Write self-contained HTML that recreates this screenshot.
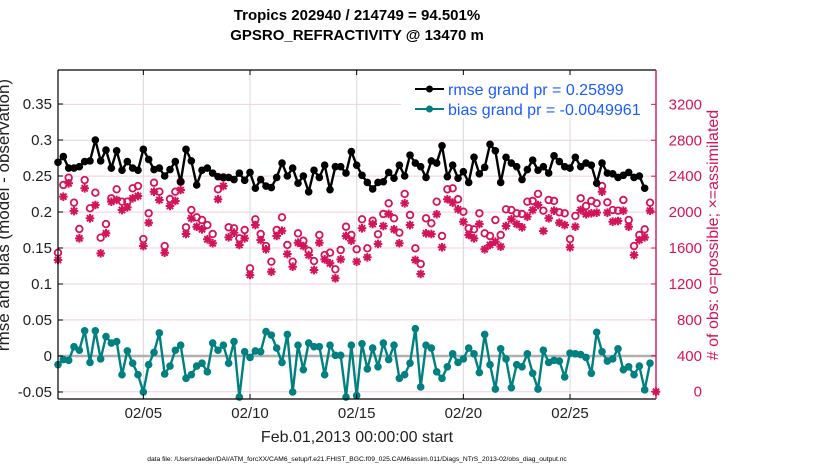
<!DOCTYPE html>
<html><head><meta charset="utf-8"><style>
body{margin:0;background:#fff;}
svg{display:block;font-family:"Liberation Sans",sans-serif;}
</style></head><body>
<svg id="chart" width="830" height="470" viewBox="0 0 830 470">
<rect x="0" y="0" width="830" height="470" fill="#fff"/>
<g id="grid"></g>
<g id="marks"></g>
<g id="axes"></g>
</svg>
<script>
const rmse=[0.269,0.277,0.261,0.261,0.263,0.270,0.271,0.300,0.271,0.286,0.261,0.285,0.258,0.270,0.261,0.258,0.287,0.273,0.259,0.261,0.250,0.259,0.270,0.242,
0.287,0.271,0.2375,0.258,0.261,0.254,0.249,0.248,0.248,0.245,0.254,0.244,0.255,0.233,0.245,0.236,0.234,0.248,0.268,0.250,0.261,
0.240,0.250,0.228,0.258,0.248,0.265,0.231,0.263,0.263,0.254,0.284,0.265,0.251,0.241,0.232,0.241,0.242,0.255,0.247,0.265,0.250,0.279,
0.268,0.263,0.248,0.271,0.268,0.292,0.249,0.265,0.247,0.256,0.241,0.276,0.253,0.262,0.294,0.285,0.241,0.276,0.268,0.263,0.245,0.259,0.272,
0.258,0.263,0.254,0.278,0.270,0.263,0.261,0.276,0.263,0.268,0.265,0.240,0.268,0.254,0.253,0.248,0.251,0.255,0.248,0.250,0.233];
const bias=[-0.012,-0.005,-0.006,0.013,0.008,0.035,-0.009,0.035,-0.004,0.027,0.018,0.020,-0.026,0.007,-0.010,-0.026,-0.050,-0.012,0.005,0.032,-0.025,-0.014,0.008,0.015,
-0.031,-0.026,-0.014,-0.010,-0.022,0.018,0.008,0.015,-0.010,0.020,-0.057,0.006,-0.002,0.007,0.006,0.034,0.029,0.011,-0.009,0.030,-0.050,0.015,
-0.019,0.018,0.013,0.013,-0.026,0.015,0.001,0.001,-0.057,0.015,-0.055,0.017,-0.018,0.011,-0.015,0.018,-0.005,0.015,-0.031,-0.026,-0.010,0.038,-0.043,
0.015,0.011,-0.022,-0.031,-0.015,0.003,-0.009,-0.004,0.011,0.003,-0.023,0.030,-0.012,-0.046,0.010,-0.004,-0.044,-0.012,-0.015,0.003,-0.024,-0.046,
0.008,-0.009,-0.006,-0.007,-0.029,0.004,0.003,0.002,-0.002,-0.024,0.033,0.006,-0.007,-0.004,0.010,-0.019,-0.015,-0.026,-0.014,-0.047,-0.010];
const possible=[1548,2302,2383,2105,1812,2357,2042,2216,1715,1867,2154,2254,2116,2116,2265,2290,1700,1987,2327,2227,1622,2146,2227,
2338,1831,2023,1942,1912,1856,1756,2254,2387,1831,1820,1708,1801,1374,1920,1756,1622,1448,1801,1942,1634,1448,1764,
1681,1570,1455,1745,1522,1548,1363,1578,1837,1745,1586,1920,1597,1904,1753,1979,2098,1931,1771,2202,1968,1597,
1422,1931,1875,2116,1734,2254,2265,2143,2004,1820,1808,1987,1764,1734,1912,1745,2031,2023,1987,1979,2116,2124,2202,
2016,2135,2124,1998,1987,1700,1957,2154,2068,2124,2098,2290,2109,2023,2016,2135,1912,1622,1745,1808,2105];
const assimilated=[1467,2172,2321,2012,1708,2265,1931,2079,1541,1764,2116,2135,2023,2053,2154,2179,1622,1882,2227,2135,1548,2068,2124,
2246,1756,1931,1837,1808,1697,1653,2143,2290,1719,1771,1634,1708,1300,1856,1689,1586,1336,1734,1793,1533,1392,1659,
1622,1522,1355,1659,1474,1430,1263,1474,1734,1681,1448,1820,1497,1867,1645,1845,1979,1808,1653,2098,1856,1467,
1311,1764,1756,1976,1608,2143,2105,2031,1893,1745,1708,1867,1586,1634,1670,1615,1845,1920,1867,1831,1949,2023,2079,
1790,1931,2016,1882,1856,1608,1837,2023,1976,1987,1994,2227,1994,1893,1901,2016,1837,1522,1689,1719,2016];
const leftTicks=[-0.05,0,0.05,0.1,0.15,0.2,0.25,0.3,0.35];
const leftTickLabels=["-0.05","0","0.05","0.1","0.15","0.2","0.25","0.3","0.35"];
const rightTicks=[0,400,800,1200,1600,2000,2400,2800,3200];
const xTicks=[4,9,14,19,24];
const xTickLabels=["02/05","02/10","02/15","02/20","02/25"];

const L=58,R=656,T=70,B=399;
const xs=d=>L+(d/28.03)*(R-L);
const yl=v=>356-720*v;
const yr=n=>391.7-0.0898*n;
const NS='http://www.w3.org/2000/svg';
function el(tag,attrs,parent,text){const e=document.createElementNS(NS,tag);for(const k in attrs)e.setAttribute(k,attrs[k]);if(text!==undefined)e.textContent=text;parent.appendChild(e);return e;}
const grid=document.getElementById('grid'),marks=document.getElementById('marks'),axes=document.getElementById('axes');
const MAG='#d4145a',TEAL='#008080';

rightTicks.forEach(n=>{const g=el('line',{x1:L,x2:R,y1:yr(n),y2:yr(n),stroke:'#f3cfdc','stroke-width':1},grid);

});
xTicks.forEach(d=>{const g=el('line',{x1:xs(d),x2:xs(d),y1:T,y2:B,stroke:'#d8d8d8','stroke-width':1},grid);

});
const zl=el('line',{x1:L,x2:R,y1:yl(0),y2:yl(0),stroke:'#b0b0b0','stroke-width':2.5},grid);



function star(cx,cy,p){const s=4.3,d=3.1;
el('path',{d:`M${cx-s},${cy}H${cx+s}M${cx},${cy-s}V${cy+s}M${cx-d},${cy-d}L${cx+d},${cy+d}M${cx-d},${cy+d}L${cx+d},${cy-d}`,stroke:MAG,'stroke-width':2,fill:'none'},p);}
const gp=el('g',{},marks);


possible.forEach((n,i)=>{el('circle',{cx:xs(i*0.25),cy:yr(n),r:3.3,fill:'none',stroke:MAG,'stroke-width':1.8},gp);});
const ga=el('g',{},marks);


assimilated.forEach((n,i)=>star(xs(i*0.25),yr(n),ga));
star(R,yr(0),ga);
el('circle',{cx:R,cy:yr(0),r:3,fill:MAG},ga);

function series(vals,color,name){const g=el('g',{},marks);


el('polyline',{points:vals.map((v,i)=>xs(i*0.25)+','+yl(v)).join(' '),fill:'none',stroke:color,'stroke-width':2.4},g);
vals.forEach((v,i)=>el('circle',{cx:xs(i*0.25),cy:yl(v),r:3.8,fill:color},g));}
series(rmse,'#000','rmse-series');
series(bias,TEAL,'bias-series');

// legend
const lg=el('g',{},axes);


el('rect',{x:401,y:71,width:254,height:47,fill:'#fff'},lg);
el('line',{x1:415,x2:444,y1:89,y2:89,stroke:'#000','stroke-width':2},lg);
el('circle',{cx:429.5,cy:89,r:3.5,fill:'#000'},lg);
el('text',{x:448,y:95,'font-size':16,fill:'#1a5cff'},lg,'rmse grand pr = 0.25899');
el('line',{x1:415,x2:444,y1:109,y2:109,stroke:TEAL,'stroke-width':2},lg);
el('circle',{cx:429.5,cy:109,r:3.5,fill:TEAL},lg);
el('text',{x:448,y:115,'font-size':16,fill:'#1a5cff'},lg,'bias grand pr = -0.0049961');

// axes
el('line',{x1:L,x2:L,y1:T,y2:B,stroke:'#000','stroke-width':1.2},axes);
el('line',{x1:L,x2:R,y1:B,y2:B,stroke:'#000','stroke-width':1.2},axes);
el('line',{x1:L,x2:R,y1:T,y2:T,stroke:'#000','stroke-width':1.2},axes);
el('line',{x1:R,x2:R,y1:T,y2:B,stroke:MAG,'stroke-width':1.4},axes);
leftTicks.forEach((v,i)=>{el('line',{x1:L,x2:L+5,y1:yl(v),y2:yl(v),stroke:'#000'},axes);
const t=el('text',{x:52,y:yl(v)+5,'font-size':15,'text-anchor':'end',fill:'#222'},axes,leftTickLabels[i]);

});
rightTicks.forEach(n=>{el('line',{x1:R-5,x2:R,y1:yr(n),y2:yr(n),stroke:MAG},axes);
const t=el('text',{x:702,y:yr(n)+5,'font-size':15,'text-anchor':'end',fill:MAG},axes,String(n));

});
xTicks.forEach((d,i)=>{el('line',{x1:xs(d),x2:xs(d),y1:B,y2:B-5,stroke:'#000'},axes);el('line',{x1:xs(d),x2:xs(d),y1:T,y2:T+5,stroke:'#000'},axes);
const t=el('text',{x:xs(d),y:418,'font-size':15,'text-anchor':'middle',fill:'#222'},axes,xTickLabels[i]);

});
</script>
<svg style="position:absolute;left:0;top:0" width="830" height="470">
<text x="357" y="20" font-size="15" font-weight="bold" text-anchor="middle" fill="#000">Tropics 202940 / 214749 = 94.501%</text>
<text x="357" y="40" font-size="15" font-weight="bold" text-anchor="middle" fill="#000">GPSRO_REFRACTIVITY @ 13470 m</text>
<text x="357" y="442" font-size="16" text-anchor="middle" fill="#222">Feb.01,2013 00:00:00 start</text>
<text x="357" y="461" font-size="6.7" text-anchor="middle" fill="#000">data file: /Users/raeder/DAI/ATM_forcXX/CAM6_setup/f.e21.FHIST_BGC.f09_025.CAM6assim.011/Diags_NTrS_2013-02/obs_diag_output.nc</text>
<text transform="translate(9,215) rotate(-90)" font-size="17" text-anchor="middle" fill="#222">rmse and bias (model - observation)</text>
<text transform="translate(718,235) rotate(-90)" font-size="16" text-anchor="middle" fill="#d4145a"># of obs: o=possible; ×=assimilated</text>
</svg>
<style>svg text{font-family:"Liberation Sans",sans-serif;}</style>
</body></html>
